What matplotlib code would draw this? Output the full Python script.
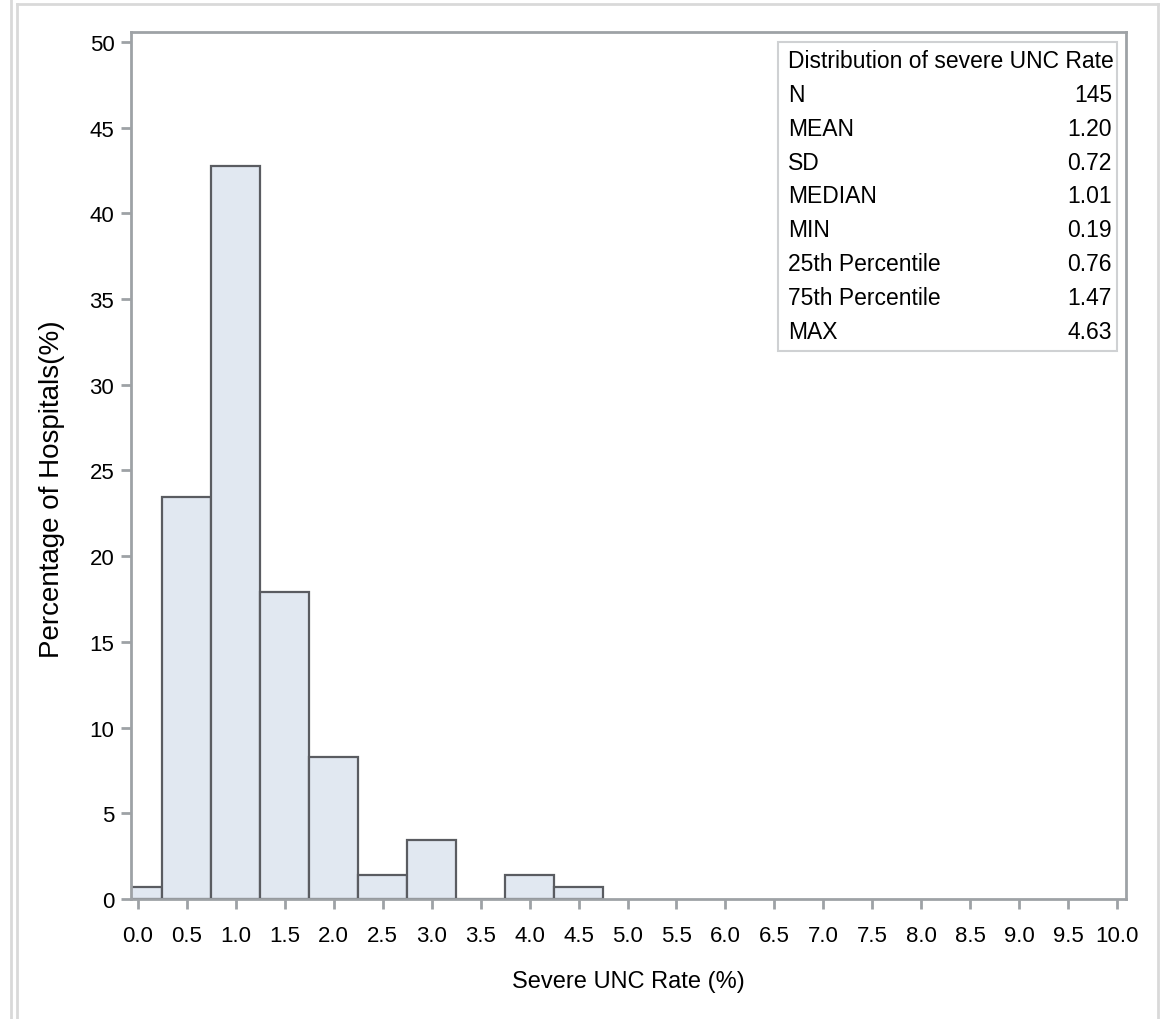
import matplotlib
matplotlib.use("Agg")
import matplotlib.pyplot as plt
from matplotlib.patches import Rectangle
from matplotlib.lines import Line2D

plt.rcParams['font.family'] = ['Liberation Sans', 'DejaVu Sans']

bin_centers = [0.0, 0.5, 1.0, 1.5, 2.0, 2.5, 3.0, 3.5, 4.0, 4.5]
counts = [1, 34, 62, 26, 12, 2, 5, 0, 2, 1]
n_total = 145
percent = [c / n_total * 100 for c in counts]
bin_width = 0.5

stat_labels = ["N", "MEAN", "SD", "MEDIAN", "MIN", "25th Percentile", "75th Percentile", "MAX"]
stat_values = ["145", "1.20", "0.72", "1.01", "0.19", "0.76", "1.47", "4.63"]
inset_title = "Distribution of severe UNC Rate"

x_ticks = [i * 0.5 for i in range(21)]
y_ticks = [0, 5, 10, 15, 20, 25, 30, 35, 40, 45, 50]

W, H = 1166, 1020
fig = plt.figure(figsize=(W / 100, H / 100), dpi=100)

# outer frame lines (figure decoration)
frame_c = "#d9d9d9"
fig.add_artist(Line2D([11 / W, 11 / W], [0, 1], color=frame_c, lw=2, transform=fig.transFigure))
fig.add_artist(Line2D([17 / W, 17 / W], [0, 1 - 5 / H], color=frame_c, lw=2, transform=fig.transFigure))
fig.add_artist(Line2D([17 / W, 1158 / W], [1 - 5 / H, 1 - 5 / H], color=frame_c, lw=2, transform=fig.transFigure))
fig.add_artist(Line2D([1158 / W, 1158 / W], [0, 1 - 5 / H], color=frame_c, lw=2, transform=fig.transFigure))

ax = fig.add_axes([131 / W, 1 - 900 / H, (1126 - 131) / W, (900 - 33) / H])

ax.bar(bin_centers, percent, width=bin_width, color="#e1e8f1", edgecolor="#5a5c61",
       linewidth=1.6, align="center", zorder=2)

ax.set_xlim(-0.07, 10.09)
ax.set_ylim(0, 50.58)
ax.set_xticks(x_ticks)
ax.set_xticklabels([f"{t:.1f}" for t in x_ticks])
ax.set_yticks(y_ticks)
ax.set_yticklabels([str(t) for t in y_ticks])

spine_c = "#9ea2a6"
for s in ax.spines.values():
    s.set_color(spine_c)
    s.set_linewidth(2)
ax.tick_params(axis="both", colors=spine_c, length=7, width=2, labelsize=16, labelcolor="black", direction="out")
ax.tick_params(axis="x", pad=12)
ax.tick_params(axis="y", pad=5)

ax.set_xlabel("Severe UNC Rate (%)", fontsize=17, labelpad=17)
ax.set_ylabel("Percentage of Hospitals(%)", fontsize=20)
ax.yaxis.set_label_coords(-66 / (1126 - 131), 0.474)

# inset statistics table
def fx(px):
    return px / W
def fy(py):
    return 1 - py / H

box = Rectangle((fx(778), fy(352)), fx(1117) - fx(778), fy(43) - fy(352),
                transform=fig.transFigure, facecolor="white", edgecolor="#cfd1d3", lw=1.5, zorder=5)
fig.add_artist(box)
fig.text(fx(788), fy(62), inset_title, fontsize=16.5, ha="left", va="center", zorder=6)
row0 = 95.5
step = 33.8
for i, (lab, val) in enumerate(zip(stat_labels, stat_values)):
    yy = row0 + i * step
    fig.text(fx(788), fy(yy), lab, fontsize=16.5, ha="left", va="center", zorder=6)
    fig.text(fx(1112), fy(yy), val, fontsize=16.5, ha="right", va="center", zorder=6)

fig.savefig("out.png", dpi=100, facecolor="white")
